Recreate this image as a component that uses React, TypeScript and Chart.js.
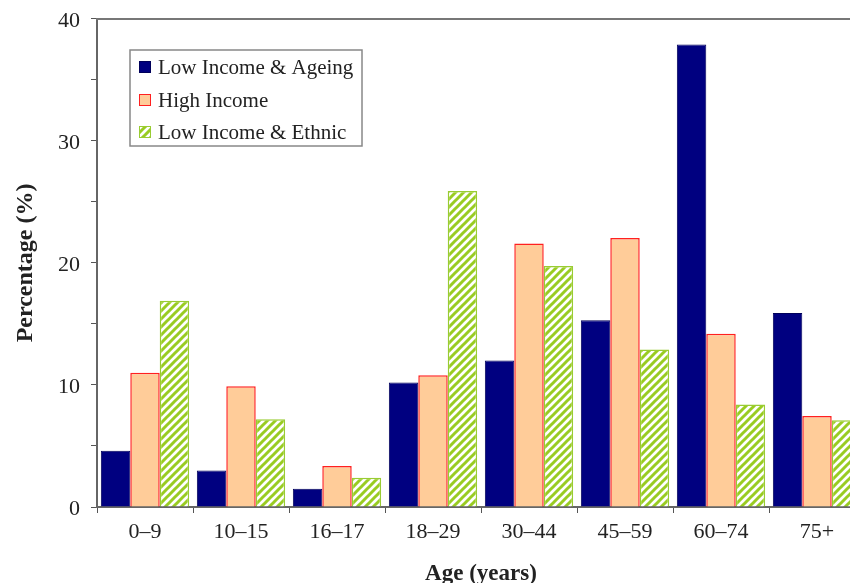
import React, { useEffect, useRef } from "react";
import { Chart, registerables } from "chart.js";

Chart.register(...registerables);

const categories = ["0–9", "10–15", "16–17", "18–29", "30–44", "45–59", "60–74", "75+"];
const seriesNames = ["Low Income & Ageing", "High Income", "Low Income & Ethnic"];
const lowIncomeAgeing = [4.6, 3.0, 1.5, 10.2, 12.0, 15.3, 37.9, 15.9];
const highIncome = [11.0, 9.9, 3.35, 10.8, 21.6, 22.05, 14.2, 7.45];
const lowIncomeEthnic = [16.9, 7.2, 2.4, 25.9, 19.75, 12.9, 8.4, 7.1];
const yTicks = [0, 10, 20, 30, 40];

const FONT = "'Liberation Serif', 'Times New Roman', serif";

function makeHatch(): CanvasPattern | string {
  const c = document.createElement("canvas");
  c.width = 8;
  c.height = 8;
  const g = c.getContext("2d");
  if (!g) return "#99cc33";
  g.fillStyle = "#ffffff";
  g.fillRect(0, 0, 8, 8);
  g.strokeStyle = "#99cc22";
  g.lineWidth = 3;
  g.beginPath();
  for (let k = -1; k <= 1; k++) {
    g.moveTo(-2 + k * 8, 10);
    g.lineTo(10 + k * 8, -2);
  }
  g.stroke();
  const p = g.createPattern(c, "repeat");
  return p || "#99cc33";
}

export default function App() {
  const ref = useRef<HTMLCanvasElement | null>(null);

  useEffect(() => {
    const canvas = ref.current;
    if (!canvas) return;
    const hatch = makeHatch();

    const frame = {
      id: "frame",
      afterDraw(chart: any) {
        const { ctx, chartArea } = chart;
        ctx.save();
        ctx.strokeStyle = "#777777";
        ctx.lineWidth = 2;
        ctx.beginPath();
        ctx.moveTo(chartArea.left - 1, chartArea.top);
        ctx.lineTo(chartArea.right + 5, chartArea.top);
        ctx.stroke();
        ctx.restore();
      },
    };

    const legendBox = {
      id: "legendBox",
      afterDraw(chart: any) {
        const { ctx } = chart;
        const x = 130, y = 50, w = 232, h = 96;
        ctx.save();
        ctx.fillStyle = "#ffffff";
        ctx.fillRect(x, y, w, h);
        ctx.strokeStyle = "#888888";
        ctx.lineWidth = 1.5;
        ctx.strokeRect(x, y, w, h);
        const rows = [67, 100, 132];
        chart.data.datasets.forEach((ds: any, i: number) => {
          const sy = rows[i];
          ctx.fillStyle = ds.backgroundColor;
          ctx.fillRect(139, sy - 6, 12, 12);
          ctx.strokeStyle = ds.borderColor;
          ctx.lineWidth = 1;
          ctx.strokeRect(139.5, sy - 5.5, 11, 11);
          ctx.fillStyle = "#222222";
          ctx.font = `21px ${FONT}`;
          ctx.textBaseline = "middle";
          ctx.textAlign = "left";
          ctx.fillText(ds.label, 158, sy + 1);
        });
        ctx.restore();
      },
    };

    const chart = new Chart(canvas, {
      type: "bar",
      data: {
        labels: categories,
        datasets: [
          {
            label: seriesNames[0],
            data: lowIncomeAgeing,
            backgroundColor: "#000080",
            borderColor: "#00005a",
            borderWidth: 1,
          },
          {
            label: seriesNames[1],
            data: highIncome,
            backgroundColor: "#ffcc99",
            borderColor: "#ff2020",
            borderWidth: 1.5,
          },
          {
            label: seriesNames[2],
            data: lowIncomeEthnic,
            backgroundColor: hatch as any,
            borderColor: "#99cc33",
            borderWidth: 1.5,
          },
        ],
      },
      options: {
        responsive: false,
        animation: false,
        devicePixelRatio: 1,
        layout: { padding: { top: 10, right: 5, left: 0, bottom: 0 } },
        datasets: { bar: { categoryPercentage: 0.92, barPercentage: 1 } },
        plugins: { legend: { display: false }, tooltip: { enabled: false } },
        scales: {
          x: {
            grid: {
              display: true,
              offset: true,
              drawOnChartArea: false,
              drawTicks: true,
              tickLength: 6,
              tickColor: "#555555",
            },
            border: { display: true, color: "#666666", width: 2 },
            ticks: {
              color: "#222222",
              font: { family: FONT, size: 22 },
              padding: 6,
              maxRotation: 0,
            },
            title: {
              display: true,
              text: "Age (years)",
              color: "#222222",
              font: { family: FONT, size: 23, weight: "bold", lineHeight: 0.8 },
              padding: { top: 0, bottom: 0 },
            },
            afterFit(scale: any) {
              scale.height = 76;
            },
          },
          y: {
            min: 0,
            max: 40,
            grid: {
              display: true,
              drawOnChartArea: false,
              drawTicks: true,
              tickLength: 6,
              tickColor: "#555555",
            },
            border: { display: true, color: "#666666", width: 2 },
            afterBuildTicks(scale: any) {
              const t: any[] = [];
              for (let v = 0; v <= 40; v += 5) t.push({ value: v });
              scale.ticks = t;
            },
            ticks: {
              color: "#222222",
              font: { family: FONT, size: 22, lineHeight: 0.72 },
              padding: 11,
              labelOffset: 2,
              callback: (v: any) => (yTicks.includes(Number(v)) ? String(v) : ""),
            },
            title: {
              display: true,
              text: "Percentage (%)",
              color: "#222222",
              font: { family: FONT, size: 24, weight: "bold" },
              padding: { top: 11, bottom: 0 },
            },
            afterFit(scale: any) {
              scale.width = 97;
            },
          },
        },
      },
      plugins: [frame, legendBox],
    } as any);

    return () => chart.destroy();
  }, []);

  return (
    <div
      style={{
        position: "fixed",
        left: 0,
        top: 0,
        width: 850,
        height: 583,
        overflow: "hidden",
        background: "#ffffff",
      }}
    >
      <canvas ref={ref} width={870} height={583} style={{ display: "block" }} />
    </div>
  );
}
